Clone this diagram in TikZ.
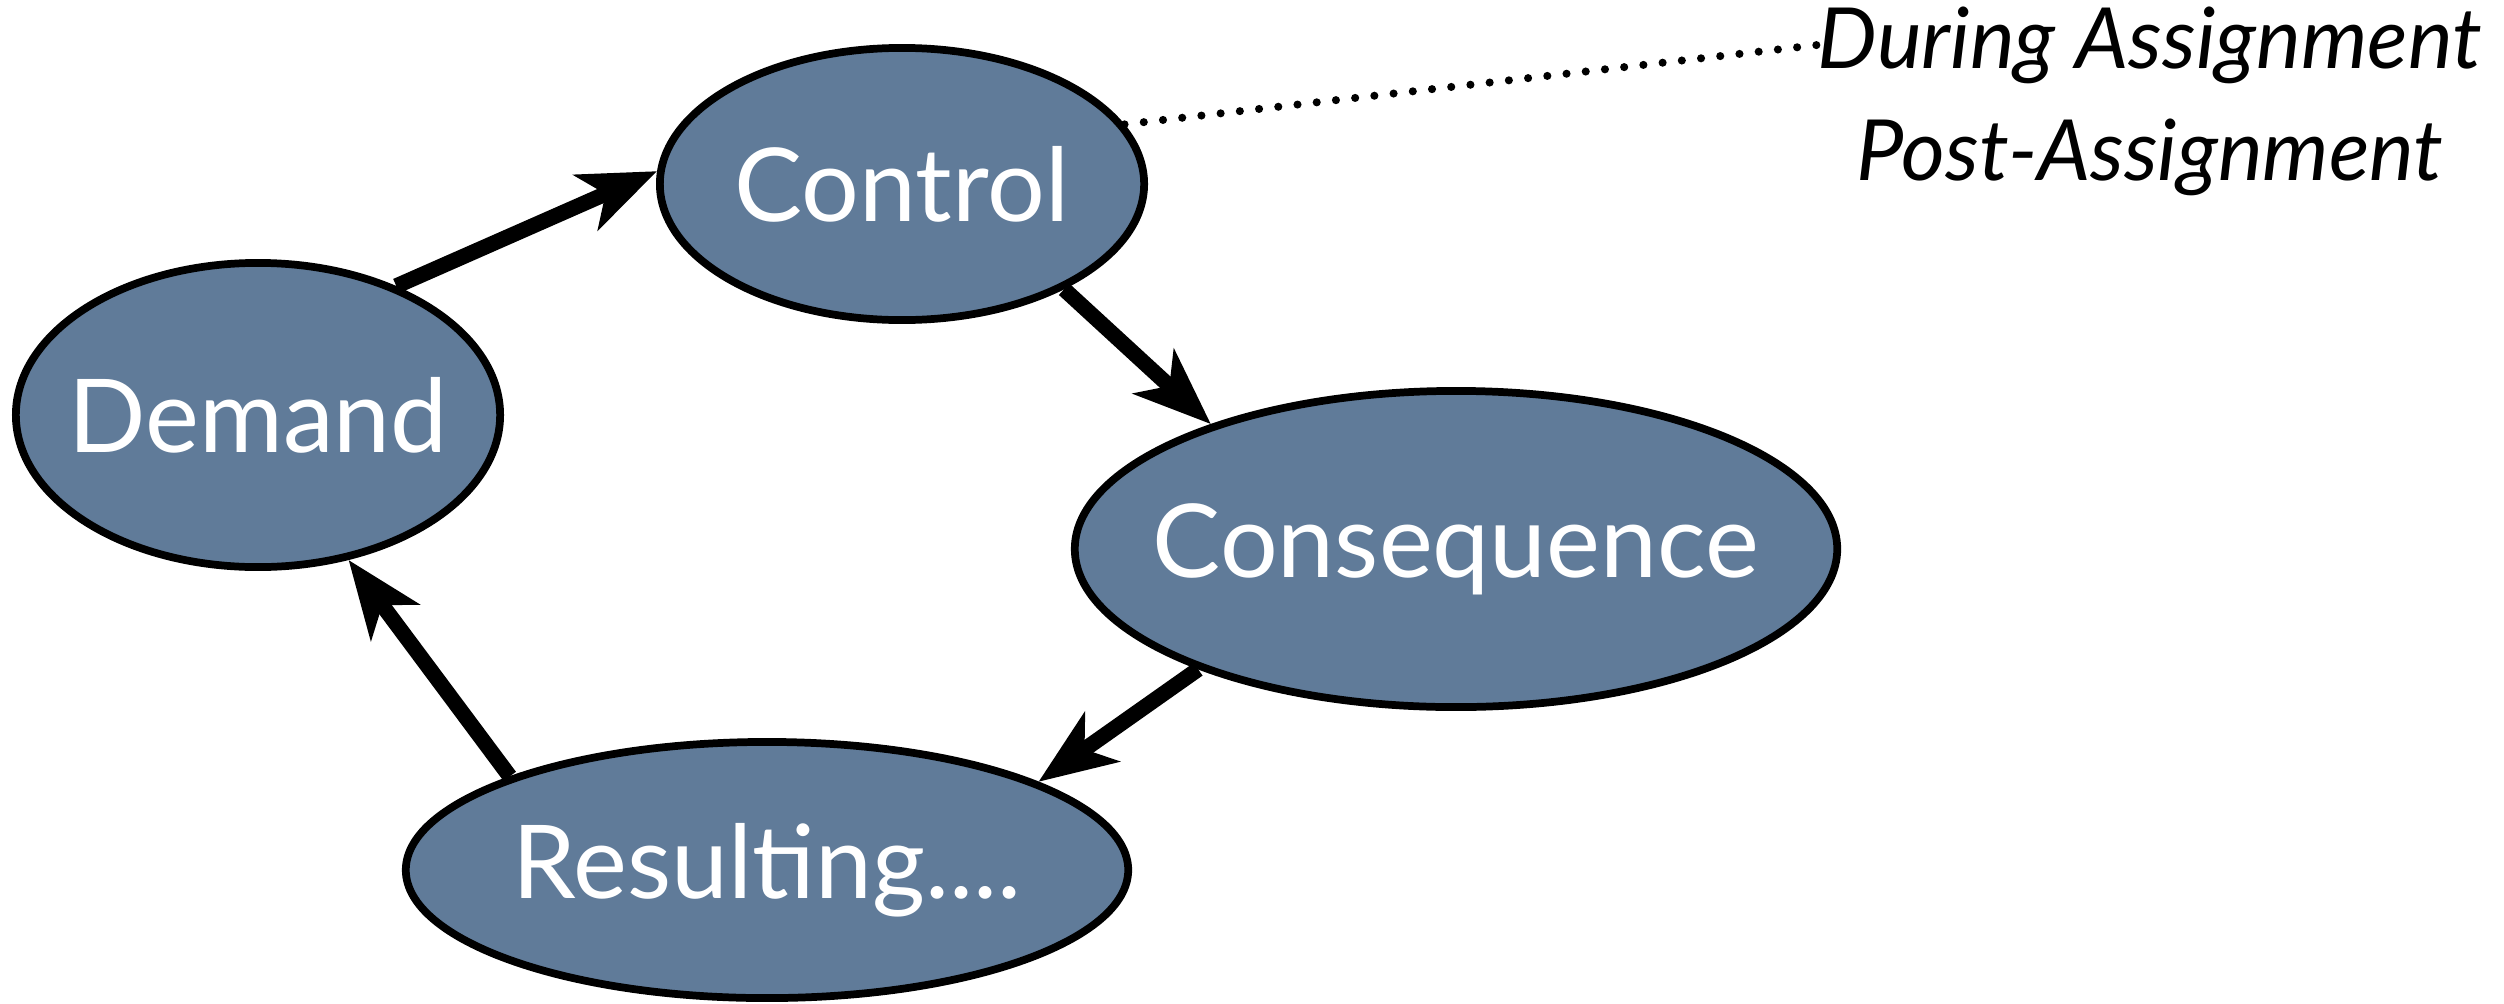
\documentclass[tikz,border=0pt]{standalone}
\usepackage{fontspec}
\setmainfont{Lato}
\usetikzlibrary{arrows.meta,positioning,shapes.geometric}
\usepackage{xcolor}
\definecolor{fslate}{HTML}{607B99}
\tikzset{
  bubble/.style = {draw, ellipse, line width=2.2pt, fill=fslate, text=white,
                   inner xsep=-1.2cm, inner ysep=0pt, font=\fontsize{29}{33}\selectfont},
  flow/.style   = {-{Stealth[length=22pt,width=17pt,inset=6pt]}, line width=4.4pt},
  phase/.style  = {inner sep=0pt, font=\fontsize{24}{28}\selectfont\itshape},
  lead/.style   = {line width=2.3pt, line cap=round, dash pattern=on 0pt off 5.5pt},
}
\begin{document}
\begin{tikzpicture}[x=0.01cm, y=-0.01cm]
\useasboundingbox (0,0) rectangle (2504,1003);
% ---- the four stages ----
\node[bubble, minimum width=4.84cm, minimum height=2.72cm] (control) at (902,184) {Control};
\node[bubble, minimum width=4.84cm, minimum height=3.04cm] (demand) at (258,415) {Demand};
\node[bubble, minimum width=7.62cm, minimum height=3.16cm] (consequence) at (1456,549) {Consequence};
\node[bubble, minimum width=7.22cm, minimum height=2.56cm] (resulting) at (767,870) {Resulting....};
% ---- arrows round the cycle ----
\draw[flow] (demand.43) -- (control.177);
\draw[flow] (control.-33) -- (consequence.153);
\draw[flow] (consequence.205) -- (resulting.18);
\draw[flow] (resulting.160) -- (demand.-58);
% ---- phases of control ----
\node[phase] (during) at (2150,45) {During Assignment};
\node[phase] (post) at (2150,157) {Post-Assignment};
\draw[lead] (control.15) -- (during.west);
\end{tikzpicture}
\end{document}
